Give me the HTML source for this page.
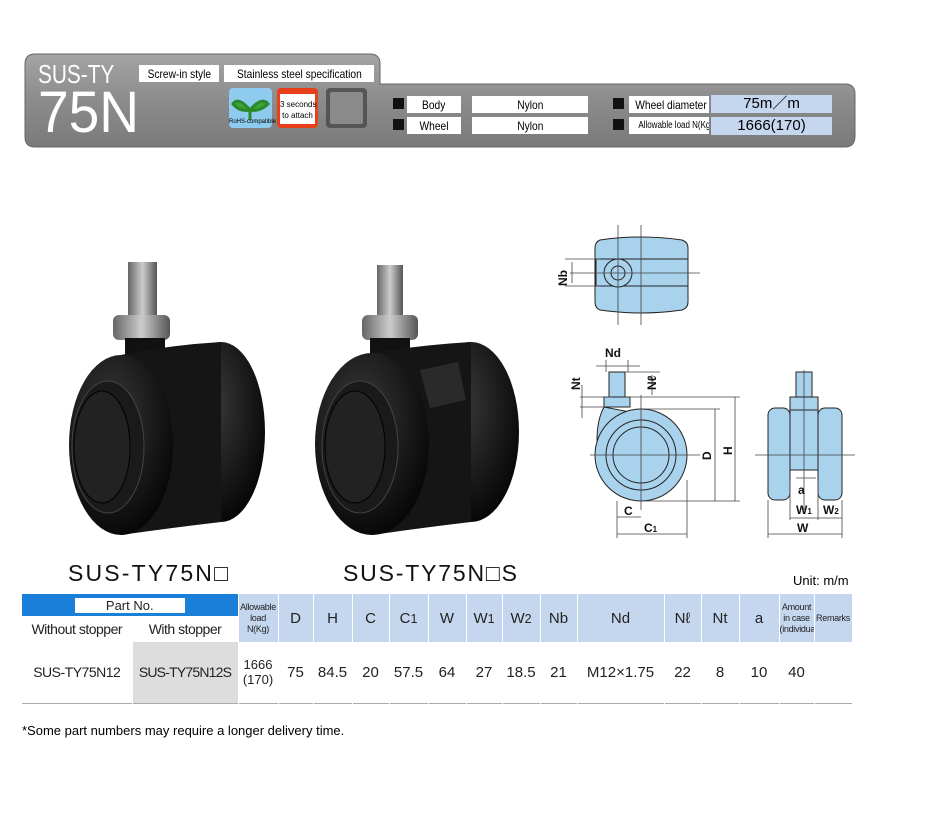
<!DOCTYPE html>
<html><head><meta charset="utf-8"><style>
body{margin:0;width:950px;height:816px;background:#fff;position:relative;font-family:"Liberation Sans",sans-serif;overflow:hidden}
.a{position:absolute}
.lab{position:absolute;background:#fff;font-size:12px;text-align:center;line-height:18px;height:17px;white-space:nowrap;overflow:hidden}
.lab span{display:inline-block;transform:scaleX(.85)}
.sq{position:absolute;width:11px;height:11px;background:#111}
table{position:absolute;left:22px;top:594px;border-collapse:collapse;font-size:15px;color:#222;table-layout:fixed;width:830px}
td{border-right:1px solid #fff;text-align:center;padding:0;white-space:nowrap;overflow:hidden}
.h{background:#c5d7ee;}
.n{font-size:9px;line-height:11px;white-space:normal;letter-spacing:-.3px}
</style></head><body>
<svg class="a" style="left:0;top:0" width="950" height="160">
<defs><linearGradient id="g" x1="0" y1="0" x2="0" y2="1"><stop offset="0" stop-color="#a4a4a4"/><stop offset=".5" stop-color="#8c8c8c"/><stop offset="1" stop-color="#7a7a7a"/></linearGradient></defs>
<path d="M35 54 H370 Q380 54 380 64 V84 H845 Q855 84 855 94 V136 Q855 147 845 147 H35 Q25 147 25 137 V64 Q25 54 35 54Z" fill="url(#g)" stroke="#666"/>
<rect x="229" y="88" width="43" height="40" rx="4" fill="#8ecbef"/>
<path d="M250 110 V120 M250 110 Q238 96 233 104 Q240 112 250 110 M250 110 Q262 96 268 104 Q260 112 250 110" stroke="#2a8a2a" stroke-width="3" fill="#3aa23a"/>
<rect x="277" y="88" width="41" height="40" rx="4" fill="#e8401a"/>
<rect x="280" y="94" width="35" height="30" fill="#fff"/>
<rect x="326" y="88" width="41" height="40" rx="4" fill="#555"/>
<rect x="330" y="92" width="33" height="32" rx="2" fill="#8a8a8a"/>
</svg>
<div class="a" style="left:38px;top:60px;color:#fff;font-size:26px;line-height:28px;transform:scaleX(.8);transform-origin:left">SUS-TY</div>
<div class="a" style="left:38px;top:88px;color:#fff;font-size:58px;line-height:50px;transform:scaleX(.95);transform-origin:left">75N</div>
<div class="lab" style="left:139px;top:65px;width:80px"><span>Screw-in style</span></div>
<div class="lab" style="left:224px;top:65px;width:150px"><span>Stainless steel specification</span></div>
<div class="a" style="left:229px;top:119px;font-size:6px;width:43px;text-align:center;white-space:nowrap">RoHS-compatible</div>
<div class="a" style="left:280px;top:99px;font-size:8px;width:35px;text-align:center;line-height:11px;white-space:nowrap">3 seconds<br>to attach</div>
<div class="sq" style="left:393px;top:98px"></div><div class="sq" style="left:393px;top:119px"></div>
<div class="sq" style="left:613px;top:98px"></div><div class="sq" style="left:613px;top:119px"></div>
<div class="lab" style="left:407px;top:96px;width:54px"><span>Body</span></div>
<div class="lab" style="left:407px;top:117px;width:54px"><span>Wheel</span></div>
<div class="lab" style="left:472px;top:96px;width:116px"><span>Nylon</span></div>
<div class="lab" style="left:472px;top:117px;width:116px"><span>Nylon</span></div>
<div class="lab" style="left:629px;top:96px;width:80px"><span>Wheel diameter</span></div>
<div class="lab" style="left:629px;top:117px;width:80px;font-size:10px"><span style="transform:scaleX(.8)">Allowable load N(Kg)</span></div>
<div class="a" style="left:711px;top:95px;width:121px;height:18px;background:#c5d7ee;text-align:center;font-size:15px;line-height:18px">75m／m</div>
<div class="a" style="left:711px;top:117px;width:121px;height:18px;background:#c5d7ee;text-align:center;font-size:15px;line-height:18px">1666(170)</div>

<svg class="a" style="left:0;top:0" width="950" height="816">
<defs><radialGradient id="bk" cx=".4" cy=".35" r=".7"><stop offset="0" stop-color="#3a3a3a"/><stop offset="1" stop-color="#050505"/></radialGradient>
<linearGradient id="mt" x1="0" x2="1"><stop offset="0" stop-color="#666"/><stop offset=".5" stop-color="#ccc"/><stop offset="1" stop-color="#555"/></linearGradient></defs>
<g>
<rect x="128" y="262" width="29" height="58" fill="url(#mt)"/>
<rect x="113" y="315" width="57" height="25" rx="6" fill="url(#mt)"/>
<rect x="125" y="338" width="40" height="20" fill="#111"/>
<ellipse cx="221" cy="432" rx="44" ry="90" fill="url(#bk)"/>
<path d="M121 355 Q170 345 221 342 V522 Q170 528 121 535Z" fill="#151515"/>
<ellipse cx="121" cy="445" rx="52" ry="90" fill="url(#bk)"/>
<ellipse cx="108" cy="447" rx="36" ry="66" fill="#1a1a1a" stroke="#444"/>
<ellipse cx="102" cy="447" rx="28" ry="56" fill="#222" stroke="#000"/>
</g>
<g>
<rect x="377" y="265" width="26" height="60" fill="url(#mt)"/>
<rect x="362" y="315" width="56" height="25" rx="6" fill="url(#mt)"/>
<rect x="370" y="338" width="40" height="20" fill="#111"/>
<ellipse cx="471" cy="432" rx="48" ry="90" fill="url(#bk)"/>
<path d="M372 353 Q420 345 471 342 V522 Q420 528 372 535Z" fill="#151515"/>
<path d="M420 370 L458 362 L466 400 L430 408Z" fill="#2a2a2a"/>
<ellipse cx="372" cy="444" rx="57" ry="91" fill="url(#bk)"/>
<ellipse cx="360" cy="447" rx="38" ry="66" fill="#1a1a1a" stroke="#444"/>
<ellipse cx="355" cy="447" rx="30" ry="56" fill="#222" stroke="#000"/>
</g>
<g stroke="#222" stroke-width="1" fill="#a9d2ec">
<path d="M600 240 Q641 234 682 240 Q688 242 688 248 V302 Q688 308 682 310 Q641 316 600 310 Q595 308 595 302 V248 Q595 242 600 240Z"/>
<rect x="596" y="259" width="92" height="27" fill="#a9d2ec"/>
<circle cx="618" cy="273" r="14"/><circle cx="618" cy="273" r="7"/>
<path d="M609 372 H625 V397 H609Z M604 397 H630 V407 H604Z"/>
<path d="M604 407 Q597 420 597 440 L630 412Z"/>
<circle cx="641" cy="455" r="46"/><circle cx="641" cy="455" r="35"/><circle cx="641" cy="455" r="28"/>
<rect x="796" y="372" width="16" height="25"/><rect x="790" y="397" width="28" height="13"/>
<rect x="790" y="410" width="28" height="60"/>
<rect x="768" y="408" width="22" height="92" rx="7"/><rect x="818" y="408" width="24" height="92" rx="7"/>
</g>
<g stroke="#444" stroke-width=".8" fill="none">
<path d="M570 273 H700 M618 225 V325 M641 225 V325 M590 455 H700 M641 395 V510 M755 455 H855 M804 370 V510"/>
<path d="M565 259 H600 M565 286 H600 M572 262 V283 M606 360 V372 M628 360 V372 M596 366 H640"/>
<path d="M580 397 H612 M580 407 H604 M582 385 V418 M625 372 H660 M625 397 H740 M652 375 V395 M641 409 H720 M641 501 H740 M715 409 V501 M735 397 V501"/>
<path d="M617 501 V538 M687 480 V538 M617 517 H641 M617 534 H687 M768 500 V538 M842 500 V538 M790 480 V520 M818 480 V520 M790 518 H818 M818 518 H842 M768 534 H842 M796 478 H816"/>
</g>
<g font-size="12" font-weight="bold" fill="#111" font-family="Liberation Sans">
<text x="567" y="278" transform="rotate(-90 567 278)" text-anchor="middle">Nb</text>
<text x="605" y="357">Nd</text>
<text x="580" y="390" transform="rotate(-90 580 390)">Nt</text>
<text x="656" y="390" transform="rotate(-90 656 390)">Nℓ</text>
<text x="711" y="460" transform="rotate(-90 711 460)">D</text>
<text x="732" y="455" transform="rotate(-90 732 455)">H</text>
<text x="624" y="515">C</text><text x="644" y="532">C<tspan font-size="8">1</tspan></text>
<text x="798" y="494">a</text><text x="796" y="514">W<tspan font-size="8">1</tspan></text><text x="823" y="514">W<tspan font-size="8">2</tspan></text><text x="797" y="532">W</text>
</g>
<text x="68" y="581" font-size="23" fill="#111" font-family="Liberation Sans" textLength="160">SUS-TY75N□</text>
<text x="343" y="581" font-size="23" fill="#111" font-family="Liberation Sans" textLength="174">SUS-TY75N□S</text>
</svg>
<div class="a" style="left:793px;top:573px;font-size:13px">Unit: m/m</div>
<table>
<colgroup><col style="width:110px"><col style="width:106px"><col style="width:40px"><col style="width:35px"><col style="width:39px"><col style="width:37px"><col style="width:39px"><col style="width:38px"><col style="width:36px"><col style="width:38px"><col style="width:37px"><col style="width:87px"><col style="width:37px"><col style="width:38px"><col style="width:40px"><col style="width:35px"><col style="width:38px"></colgroup>
<tr style="height:22px"><td colspan="2" style="background:#1a7fd8;padding:0"><div style="background:#fff;width:110px;margin:2px auto;font-size:13px">Part No.</div></td>
<td rowspan="2" class="h n">Allowable load N(Kg)</td>
<td rowspan="2" class="h">D</td><td rowspan="2" class="h">H</td><td rowspan="2" class="h">C</td><td rowspan="2" class="h">C<small>1</small></td><td rowspan="2" class="h">W</td><td rowspan="2" class="h">W<small>1</small></td><td rowspan="2" class="h">W<small>2</small></td><td rowspan="2" class="h">Nb</td><td rowspan="2" class="h">Nd</td><td rowspan="2" class="h">Nℓ</td><td rowspan="2" class="h">Nt</td><td rowspan="2" class="h">a</td><td rowspan="2" class="h n">Amount in case (individual)</td><td rowspan="2" class="h n">Remarks</td></tr>
<tr style="height:26px"><td style="font-size:14px;letter-spacing:-.5px">Without stopper</td><td style="font-size:14px;letter-spacing:-.5px">With stopper</td></tr>
<tr style="height:61px;border-bottom:1px solid #aaa"><td style="font-size:14px;letter-spacing:-.5px">SUS-TY75N12</td><td style="background:#ddd;font-size:14px;letter-spacing:-.8px">SUS-TY75N12S</td><td style="font-size:13px">1666<br>(170)</td><td>75</td><td>84.5</td><td>20</td><td>57.5</td><td>64</td><td>27</td><td>18.5</td><td>21</td><td>M12×1.75</td><td>22</td><td>8</td><td>10</td><td>40</td><td></td></tr>
</table>
<div class="a" style="left:22px;top:723px;font-size:13px">*Some part numbers may require a longer delivery time.</div>
</body></html>
